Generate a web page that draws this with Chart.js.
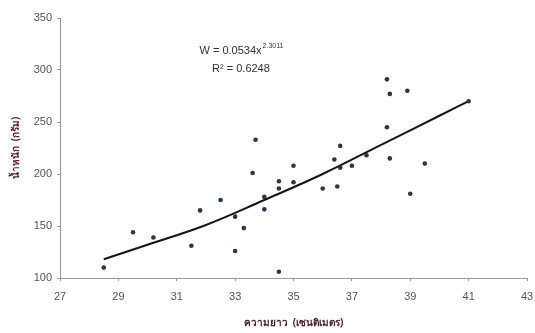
<!DOCTYPE html>
<html>
<head>
<meta charset="utf-8">
<script src="https://cdn.jsdelivr.net/npm/chart.js@4.4.0/dist/chart.umd.min.js"></script>
<style>
  html, body { margin: 0; padding: 0; background: #fff; }
  #wrap { width: 535px; height: 333px; }
</style>
</head>
<body>
<div id="wrap"><canvas id="lwChart" width="535" height="333"></canvas></div>
<script>
// length (cm) and weight (g) of each fish
const lengths = [28.5, 29.5, 30.2, 31.5, 31.8, 32.5, 33.0, 33.0, 33.3, 33.6, 33.7, 34.0, 34.0,
    34.5, 34.5, 34.5, 35.0, 35.0, 36.0, 36.5, 36.4, 36.6, 36.6, 37.0, 37.5,
    38.2, 38.3, 38.9, 38.2, 38.3, 39.5, 39.0, 41.0];
const weights = [110, 144, 139, 131, 165, 175, 159, 126, 148, 201, 233, 178, 166,
    193, 186, 106, 208, 192, 186, 188, 214, 227, 206, 208, 218,
    291, 277, 280, 245, 215, 210, 181, 270];

// power trend line
const trendX = [28.5, 30, 32, 34, 36, 38, 40, 41];
const trendY = [118, 132, 151, 175, 200, 228, 256, 270];

const xTicks = [27, 29, 31, 33, 35, 37, 39, 41, 43];
const yTicks = [100, 150, 200, 250, 300, 350];

const eqLine1 = 'W = 0.0534x';
const eqPower = '2.3011';
const eqLine2 = 'R\u00B2 = 0.6248';

const points = lengths.map((l, i) => ({ x: l, y: weights[i] }));
const trend = trendX.map((x, i) => ({ x: x, y: trendY[i] }));

const equationLabel = {
    id: 'equationLabel',
    afterDatasetsDraw(chart) {
        const ctx = chart.ctx;
        const xs = chart.scales.x, ys = chart.scales.y;
        const cx = xs.getPixelForValue(33.2);
        const y1 = ys.getPixelForValue(318);
        const y2 = ys.getPixelForValue(301);
        ctx.save();
        ctx.fillStyle = '#333';
        ctx.textBaseline = 'middle';
        ctx.font = '11px "Liberation Sans", Arial, sans-serif';
        const w1 = ctx.measureText(eqLine1).width;
        ctx.font = '7px "Liberation Sans", Arial, sans-serif';
        const wp = ctx.measureText(eqPower).width;
        let left = cx - (w1 + wp) / 2;
        ctx.font = '11px "Liberation Sans", Arial, sans-serif';
        ctx.textAlign = 'left';
        ctx.fillText(eqLine1, left, y1);
        ctx.font = '7px "Liberation Sans", Arial, sans-serif';
        ctx.fillText(eqPower, left + w1 + 1, y1 - 5);
        ctx.font = '11px "Liberation Sans", Arial, sans-serif';
        ctx.textAlign = 'center';
        ctx.fillText(eqLine2, cx, y2);
        ctx.restore();
    }
};

new Chart(document.getElementById('lwChart').getContext('2d'), {
    type: 'scatter',
    data: {
        datasets: [{
            label: 'weight',
            data: points,
            backgroundColor: '#2e3446',
            borderColor: '#2e3446',
            pointRadius: 2.3,
            pointBorderWidth: 0
        }, {
            label: 'trend',
            type: 'line',
            data: trend,
            borderColor: '#151515',
            borderWidth: 2,
            pointRadius: 0,
            tension: 0.4,
            fill: false
        }]
    },
    options: {
        responsive: false,
        animation: false,
        layout: { padding: { left: 0, right: 8, top: 18, bottom: 0 } },
        plugins: { legend: { display: false }, tooltip: { enabled: false } },
        scales: {
            x: {
                type: 'linear',
                min: 27, max: 43,
                afterBuildTicks: axis => { axis.ticks = xTicks.map(v => ({ value: v })); },
                afterFit: axis => { axis.height = 55; axis.paddingRight = 0; axis.paddingLeft = 0; },
                grid: { drawOnChartArea: false, drawTicks: true, tickLength: 3, color: '#999' },
                border: { display: true, color: '#999', width: 1 },
                ticks: { color: '#555', padding: 9, font: { size: 11, family: '"Liberation Sans", Arial, sans-serif' } },
                title: {
                    display: true,
                    text: 'ความยาว  (เซนติเมตร)',
                    color: '#4a1c28',
                    padding: { top: 0 },
                    font: { size: 10, weight: 'bold', family: '"Noto Sans", "DejaVu Sans", sans-serif' }
                }
            },
            y: {
                min: 100, max: 350,
                afterBuildTicks: axis => { axis.ticks = yTicks.map(v => ({ value: v })); },
                afterFit: axis => { axis.width = 60; },
                grid: { drawOnChartArea: false, drawTicks: true, tickLength: 3, color: '#999' },
                border: { display: true, color: '#999', width: 1 },
                ticks: { color: '#555', padding: 5, font: { size: 11, family: '"Liberation Sans", Arial, sans-serif' } },
                title: {
                    display: true,
                    text: 'น้ำหนัก  (กรัม)',
                    color: '#5a1e2c',
                    padding: { top: 10, bottom: 2 },
                    font: { size: 10, weight: 'bold', family: '"Noto Sans", "DejaVu Sans", sans-serif' }
                }
            }
        }
    },
    plugins: [equationLabel]
});
</script>
</body>
</html>
